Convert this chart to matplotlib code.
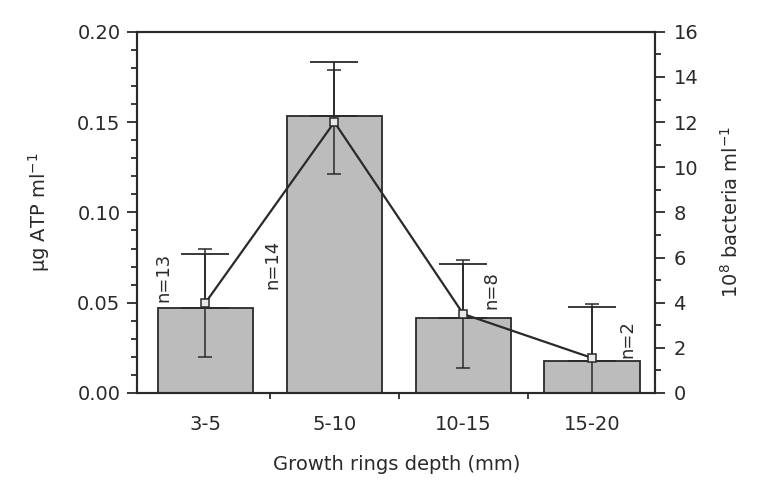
import matplotlib
matplotlib.use("Agg")
import matplotlib.pyplot as plt
from matplotlib.ticker import MultipleLocator, FixedLocator

depths = ["3-5", "5-10", "10-15", "15-20"]
atp = [0.047, 0.1535, 0.0415, 0.0177]
atp_err = [0.030, 0.030, 0.030, 0.030]
bacteria = [4.0, 12.0, 3.5, 1.55]
bacteria_err = [2.4, 2.3, 2.4, 2.4]
n_labels = ["n=13", "n=14", "n=8", "n=2"]
n_label_y = [0.064, 0.071, 0.057, 0.030]
n_label_dx = [-0.33, -0.48, 0.22, 0.27]

plt.rcParams["font.family"] = ["DejaVu Sans"]
plt.rcParams["font.size"] = 14
ink = "#2a2a2a"

fig = plt.figure(figsize=(7.62, 4.9), dpi=100)
ax = fig.add_axes([0.180, 0.198, 0.680, 0.737])
x = list(range(len(depths)))

ax.bar(x, atp, width=0.74, color="#bcbcbc", edgecolor=ink, linewidth=1.3, zorder=2)
ax.errorbar(x, atp, yerr=[[0] * len(atp), atp_err], fmt="none", ecolor=ink,
            elinewidth=1.3, capsize=17, capthick=1.3, zorder=3)
ax.set_xlim(-0.53, 3.49)
ax.set_ylim(0, 0.20)
ax.yaxis.set_major_locator(MultipleLocator(0.05))
ax.yaxis.set_minor_locator(MultipleLocator(0.01))
ax.yaxis.set_major_formatter(matplotlib.ticker.FormatStrFormatter("%.2f"))
ax.set_xticks(x)
ax.set_xticklabels(depths)
ax.xaxis.set_minor_locator(FixedLocator([0.5, 1.5, 2.5]))
ax.tick_params(axis="x", which="major", length=0, pad=16, colors=ink)
ax.tick_params(axis="x", which="minor", length=4, width=1.3, color=ink)
ax.tick_params(axis="y", which="major", length=7, width=1.3, colors=ink, pad=5)
ax.tick_params(axis="y", which="minor", length=4, width=1.3, color=ink)
ax.set_ylabel("μg ATP ml$^{-1}$", color=ink, labelpad=18)
ax.set_xlabel("Growth rings depth (mm)", color=ink, labelpad=15)
for s in ax.spines.values():
    s.set_linewidth(1.5)
    s.set_color(ink)

for i, lab in enumerate(n_labels):
    ax.text(i + n_label_dx[i], n_label_y[i], lab, rotation=90, ha="center",
            va="center", fontsize=13, color=ink, zorder=5)

ax2 = ax.twinx()
ax2.plot(x, bacteria, color=ink, linewidth=1.6, marker="s", markersize=6,
         markerfacecolor="#e8e8e8", markeredgecolor=ink, markeredgewidth=1.1, zorder=4)
ax2.errorbar(x, bacteria, yerr=bacteria_err, fmt="none", ecolor=ink,
             elinewidth=1.1, capsize=5, capthick=1.1, zorder=3)
ax2.set_ylim(0, 16)
ax2.yaxis.set_major_locator(MultipleLocator(2))
ax2.yaxis.set_minor_locator(MultipleLocator(1))
ax2.tick_params(axis="y", which="major", length=7, width=1.3, colors=ink, pad=6)
ax2.tick_params(axis="y", which="minor", length=4, width=1.3, color=ink)
ax2.set_ylabel("10$^{8}$ bacteria ml$^{-1}$", color=ink, labelpad=16)
for s in ax2.spines.values():
    s.set_linewidth(1.5)
    s.set_color(ink)

fig.savefig("out.png", dpi=100)
